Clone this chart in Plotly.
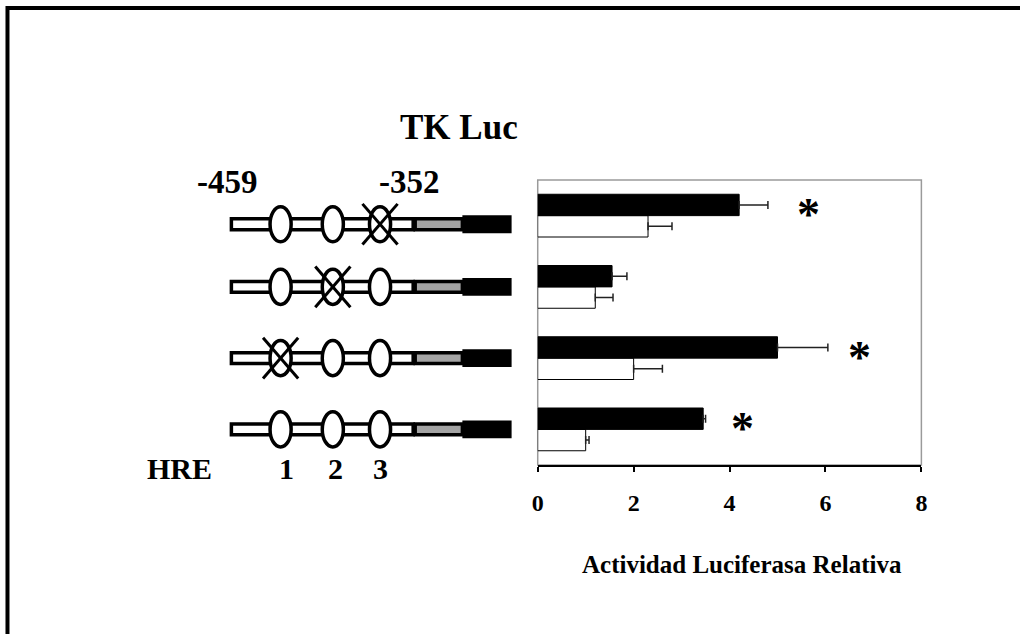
import plotly.graph_objects as go

# ---------------- data (listed top row to bottom row) ----------------
constructs = ["HRE3 mut", "HRE2 mut", "HRE1 mut", "wt"]
mutated_hre = [3, 2, 1, 0]            # which HRE is crossed out (0 = none)
treated = [4.2, 1.55, 5.0, 3.45]      # black bars
treated_err = [0.6, 0.31, 1.05, 0.05]
control = [2.3, 1.2, 2.0, 1.0]        # white bars
control_err = [0.5, 0.37, 0.6, 0.07]
significant = [True, False, True, True]
asterisk_x = [5.65, None, 6.7, 4.27]
x_ticks = [0, 2, 4, 6, 8]
hre_labels = ["1", "2", "3"]

FONT = "Liberation Serif, Times New Roman, serif"
W, H = 1026, 634


def px(x):
    # horizontal pixel -> paper fraction (compensates observed render offset)
    return max((x - 8.6) / 0.984, 1.5) / W


def py(y):
    return 1 - y / H


ypos = [3, 2, 1, 0]

fig = go.Figure()
fig.add_trace(go.Bar(
    y=ypos, x=control, orientation="h", name="control",
    marker=dict(color="white", line=dict(color="black", width=1)),
    error_x=dict(type="data", array=control_err, arrayminus=[0] * 4,
                 symmetric=False, color="#222", thickness=1.5, width=4),
))
fig.add_trace(go.Bar(
    y=ypos, x=treated, orientation="h", name="treated",
    marker=dict(color="black", line=dict(color="black", width=1)),
    error_x=dict(type="data", array=treated_err, arrayminus=[0] * 4,
                 symmetric=False, color="#222", thickness=1.5, width=4),
))

# ---------------- layout ----------------
fig.update_layout(
    width=W, height=H,
    margin=dict(l=0, r=0, t=0, b=0),
    paper_bgcolor="white", plot_bgcolor="white",
    showlegend=False,
    barmode="group", bargap=0.4, bargroupgap=0,
    font=dict(family=FONT, color="black"),
    xaxis=dict(domain=[px(538), px(920)], range=[0, 8], tickvals=x_ticks,
               showline=True, linecolor="black", linewidth=1.5,
               ticks="outside", ticklen=5, tickwidth=1.5, tickcolor="black",
               showgrid=False, zeroline=False, ticklabelstandoff=10,
               tickfont=dict(family=FONT, size=24, weight="bold"),
               anchor="y"),
    yaxis=dict(domain=[py(465), py(180)], range=[-0.5, 3.5],
               showticklabels=False, ticks="", showgrid=False,
               zeroline=False, showline=False),
    xaxis2=dict(domain=[px(220), px(530)], range=[0, 310], visible=False,
                anchor="y", fixedrange=True),
)

shapes = []
# plot frame (gray)
shapes.append(dict(type="rect", xref="x domain", yref="y domain",
                   x0=0, x1=1, y0=0, y1=1, line=dict(color="#9a9a9a", width=1.5),
                   layer="below"))
# figure border (left & top)
shapes.append(dict(type="line", xref="paper", yref="paper",
                   x0=px(8), x1=px(8), y0=0, y1=py(6), line=dict(color="black", width=4)))
shapes.append(dict(type="line", xref="paper", yref="paper",
                   x0=px(6), x1=1, y0=py(8), y1=py(8), line=dict(color="black", width=4)))

# ---------------- construct diagrams ----------------
row_dy = [-0.12, 0, 0, 0]
HRE_X = [62, 114, 161]
for i, (yc0, mut) in enumerate(zip(ypos, mutated_hre)):
    yc = yc0 + row_dy[i]
    # promoter bar
    shapes.append(dict(type="rect", xref="x2", yref="y", x0=13, x1=194,
                       y0=yc - 0.077, y1=yc + 0.077, fillcolor="white",
                       line=dict(color="black", width=3.5)))
    # TK (stippled)
    shapes.append(dict(type="rect", xref="x2", yref="y", x0=196, x1=243,
                       y0=yc - 0.077, y1=yc + 0.077, fillcolor="#a4a4a4",
                       line=dict(color="black", width=3.5)))
    # Luc
    shapes.append(dict(type="rect", xref="x2", yref="y", x0=243, x1=292,
                       y0=yc - 0.126, y1=yc + 0.126, fillcolor="black",
                       line=dict(color="black", width=0)))
    for k, hx in enumerate(HRE_X):
        shapes.append(dict(type="circle", xref="x2", yref="y",
                           x0=hx - 10.5, x1=hx + 10.5, y0=yc - 0.246, y1=yc + 0.246,
                           fillcolor="white", line=dict(color="black", width=3.5)))
        if mut == k + 1:
            shapes.append(dict(type="line", xref="x2", yref="y",
                               x0=hx - 17.5, x1=hx + 17.5, y0=yc + 0.285, y1=yc - 0.285,
                               line=dict(color="black", width=3)))
            shapes.append(dict(type="line", xref="x2", yref="y",
                               x0=hx - 17.5, x1=hx + 17.5, y0=yc - 0.285, y1=yc + 0.285,
                               line=dict(color="black", width=3)))
fig.update_layout(shapes=shapes)

# ---------------- text ----------------
ann = []


def txt(t, x, y, size):
    ann.append(dict(text=t, x=px(x), y=py(y), xref="paper", yref="paper",
                    showarrow=False, xanchor="center", yanchor="middle",
                    font=dict(family=FONT, size=size, color="black", weight="bold")))


txt("TK Luc", 460, 128, 35)
txt("-459", 229, 182, 33)
txt("-352", 410, 182, 33)
txt("HRE", 181, 468, 30)
for lab, hx in zip(hre_labels, [288, 337, 381]):
    txt(lab, hx, 468, 30)
txt("Actividad Luciferasa Relativa", 741, 564, 25)

# significance asterisks
for i in range(4):
    if significant[i]:
        ann.append(dict(text="*", x=asterisk_x[i],
                        y=ypos[i] + 0.15, xref="x", yref="y", showarrow=False,
                        xanchor="center", yanchor="middle", yshift=-10,
                        font=dict(family=FONT, size=46, color="black", weight="bold")))
fig.update_layout(annotations=ann)

fig.write_html("out.html")
